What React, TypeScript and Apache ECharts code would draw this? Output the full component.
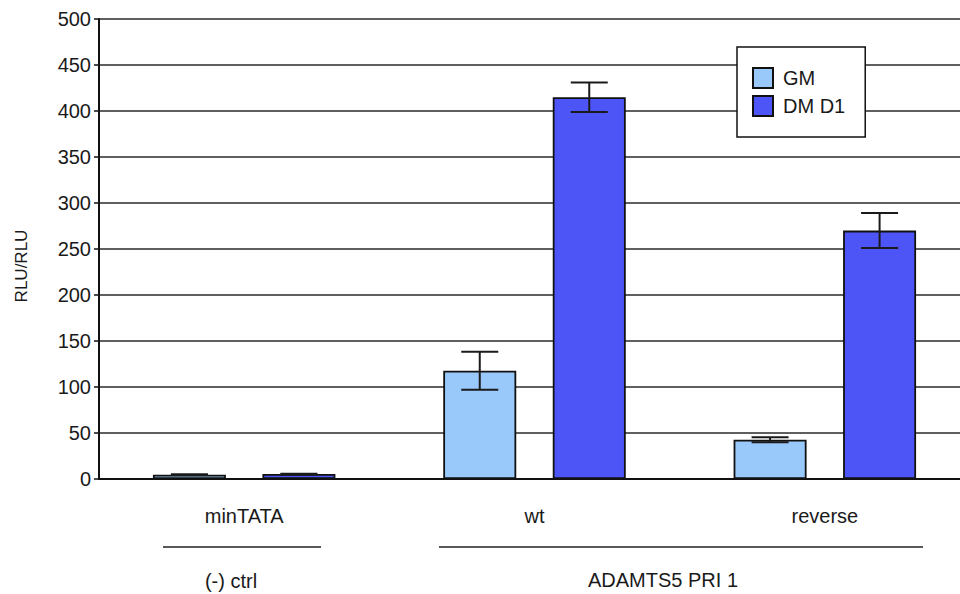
import React, { useEffect, useRef } from "react";
import * as echarts from "echarts";

const categories = ["minTATA", "wt", "reverse"];
const gmValues = [4.7, 117.7, 42.7];
const gmErrors = [0.4, 20.7, 2.7];
const dmValues = [5.4, 415, 270];
const dmErrors = [0.4, 16, 19];
const yTicks = { min: 0, max: 500, interval: 50 };
const groupLabels = ["(-) ctrl", "ADAMTS5 PRI 1"];

const BAR_W = 73;
const GAP = 36.5;
const OFF = (BAR_W + GAP) / 2;

function errData(vals: number[], errs: number[]) {
  return vals.map((v, i) => [i, v - errs[i], v + errs[i]]);
}

function errSeries(name: string, vals: number[], errs: number[], offset: number) {
  return {
    type: "custom",
    name,
    z: 5,
    data: errData(vals, errs),
    encode: { x: 0, y: [1, 2] },
    renderItem: (params: any, api: any) => {
      const ci = api.value(0);
      const lo = api.value(1);
      const hi = api.value(2);
      const pTop = api.coord([ci, hi]);
      const pBot = api.coord([ci, lo]);
      const x = pTop[0] + offset;
      const half = 18.5;
      const st = { stroke: "#1a1a1a", lineWidth: 2 };
      return {
        type: "group",
        children: [
          { type: "line", shape: { x1: x, y1: pTop[1], x2: x, y2: pBot[1] }, style: st },
          { type: "line", shape: { x1: x - half, y1: pTop[1], x2: x + half, y2: pTop[1] }, style: st },
          { type: "line", shape: { x1: x - half, y1: pBot[1], x2: x + half, y2: pBot[1] }, style: st },
        ],
      };
    },
  };
}

export default function App() {
  const ref = useRef<HTMLDivElement>(null);
  useEffect(() => {
    if (!ref.current) return;
    const chart = echarts.init(ref.current, undefined, { renderer: "svg" });
    const font = "'Liberation Sans', Arial, sans-serif";
    chart.setOption({
      animation: false,
      textStyle: { fontFamily: font },
      grid: { left: 99, top: 19, height: 460, width: 871 },
      legend: {
        data: ["GM", "DM D1"],
        orient: "vertical",
        left: 737,
        top: 47,
        padding: [20, 20, 20, 15],
        itemWidth: 20,
        itemHeight: 20,
        itemGap: 6,
        backgroundColor: "#ffffff",
        borderColor: "#111",
        borderWidth: 1.5,
        borderRadius: 0,
        icon: "rect",
        textStyle: { fontSize: 20, color: "#1a1a1a", fontFamily: font, padding: [0, 0, 0, 5] },
      },
      xAxis: {
        type: "category",
        data: categories,
        boundaryGap: true,
        axisLine: { lineStyle: { color: "#111", width: 2 } },
        axisTick: { alignWithLabel: true, length: 6, lineStyle: { color: "#111", width: 1.5 } },
        axisLabel: { fontSize: 20, color: "#1a1a1a", margin: 27, fontFamily: font },
      },
      yAxis: {
        type: "value",
        min: yTicks.min,
        max: yTicks.max,
        interval: yTicks.interval,
        axisLine: { show: true, lineStyle: { color: "#111", width: 2 } },
        axisTick: { show: true, length: 5, lineStyle: { color: "#111", width: 1.5 } },
        axisLabel: { fontSize: 20, color: "#1a1a1a", margin: 8, fontFamily: font },
        splitLine: { lineStyle: { color: "#2a2a2a", width: 1.5 } },
      },
      series: [
        {
          type: "bar",
          name: "GM",
          data: gmValues,
          barWidth: BAR_W,
          barGap: "50%",
          itemStyle: { color: "#99c9fb", borderColor: "#111", borderWidth: 1.8 },
        },
        {
          type: "bar",
          name: "DM D1",
          data: dmValues,
          barWidth: BAR_W,
          barGap: "50%",
          itemStyle: { color: "#4e55f7", borderColor: "#111", borderWidth: 1.8 },
        },
        errSeries("GM error", gmValues, gmErrors, -OFF),
        errSeries("DM D1 error", dmValues, dmErrors, OFF),
      ],
      graphic: [
        {
          type: "text",
          x: 21,
          y: 266,
          rotation: Math.PI / 2,
          style: {
            text: "RLU/RLU",
            fontSize: 17,
            fontFamily: font,
            fill: "#1a1a1a",
            align: "center",
            verticalAlign: "middle",
          },
        },
        { type: "line", shape: { x1: 163, y1: 547, x2: 321, y2: 547 }, style: { stroke: "#222", lineWidth: 1.5 } },
        { type: "line", shape: { x1: 439, y1: 547, x2: 923, y2: 547 }, style: { stroke: "#222", lineWidth: 1.5 } },
        {
          type: "text",
          x: 231,
          y: 581,
          style: { text: groupLabels[0], fontSize: 20, fontFamily: font, fill: "#1a1a1a", align: "center", verticalAlign: "middle" },
        },
        {
          type: "text",
          x: 663,
          y: 580,
          style: { text: groupLabels[1], fontSize: 20, fontFamily: font, fill: "#1a1a1a", align: "center", verticalAlign: "middle" },
        },
      ],
    });
    return () => chart.dispose();
  }, []);
  return (
    <div style={{ position: "fixed", left: 0, top: 0, width: 960, height: 594, overflow: "hidden", background: "#fff" }}>
      <div ref={ref} style={{ width: 990, height: 594 }} />
    </div>
  );
}
